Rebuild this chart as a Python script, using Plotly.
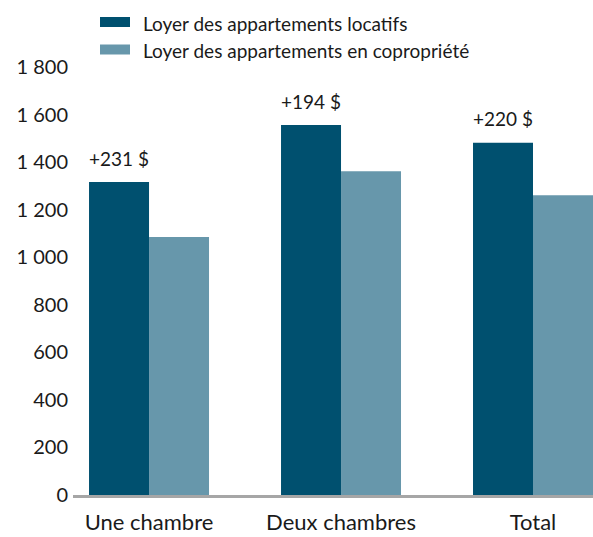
import plotly.graph_objects as go

categories = ["Une chambre", "Deux chambres", "Total"]
series_names = ["Loyer des appartements locatifs", "Loyer des appartements en copropriété"]
locatifs = [1316, 1556, 1481]
copropriete = [1085, 1362, 1261]
diff_labels = ["+231 $", "+194 $", "+220 $"]
y_ticks = [0, 200, 400, 600, 800, 1000, 1200, 1400, 1600, 1800]

dark = "#00506f"
light = "#6797ab"
font_family = "Lato, 'Open Sans', sans-serif"
text_color = "#1a1a1a"

fig = go.Figure()
fig.add_trace(go.Bar(x=categories, y=locatifs, name=series_names[0], marker_color=dark,
                     marker_line_width=0, showlegend=False))
fig.add_trace(go.Bar(x=categories, y=copropriete, name=series_names[1], marker_color=light,
                     marker_line_width=0, showlegend=False))

for i, (c, v, t) in enumerate(zip(categories, locatifs, diff_labels)):
    fig.add_annotation(x=i, y=v, text=t, showarrow=False, xref="x", yref="y",
                       xshift=-30, yshift=24, yanchor="middle",
                       font=dict(size=19, color=text_color, family=font_family))

# custom legend (plot area spans 520 x 428 px)
for k, (name, col) in enumerate(zip(series_names, [dark, light])):
    y0 = 17 + 27.5 * k
    fig.add_shape(type="rect", xref="paper", yref="paper",
                  x0=(100 - 73) / 520, x1=(130 - 73) / 520,
                  y0=1 + (67 - y0 - 10) / 428, y1=1 + (67 - y0) / 428,
                  fillcolor=col, line_width=0)
    fig.add_annotation(xref="paper", yref="paper", x=(141 - 73) / 520,
                       y=1 + (67 - y0 - 6) / 428, text=name, showarrow=False,
                       xanchor="left", yanchor="middle",
                       font=dict(size=19, color=text_color, family=font_family))

fig.update_layout(
    width=593, height=537,
    margin=dict(l=73, r=0, t=67, b=42),
    plot_bgcolor="white", paper_bgcolor="white",
    barmode="group", bargap=0.375, bargroupgap=0,
    separators=", ",
    font=dict(family=font_family, size=18, color=text_color),
    showlegend=False,
)
fig.update_xaxes(range=[-0.396, 2.3125], showgrid=False, showline=True,
                 linecolor="#a6a6a6", linewidth=3, ticks="", tickfont=dict(size=22),
                 ticklabelstandoff=6, fixedrange=True)
fig.update_yaxes(range=[0, 1800], tickvals=y_ticks, tickformat=",d", showgrid=False,
                 zeroline=False, showline=False, ticks="", tickfont=dict(size=20),
                 ticklabelstandoff=4)

fig.write_html("out.html", config={"displayModeBar": False},
               post_script="document.body.style.margin='0';document.body.style.overflow='hidden';")
